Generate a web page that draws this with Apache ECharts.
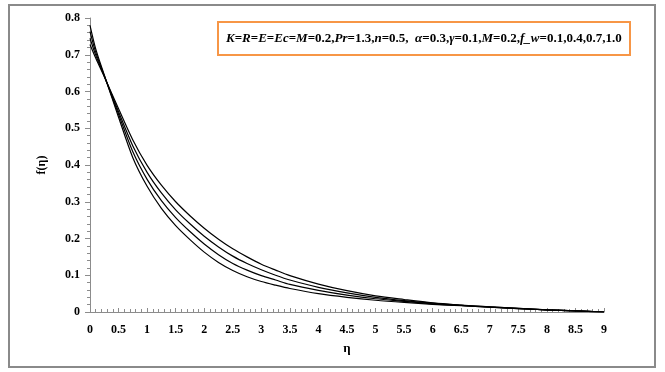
<!DOCTYPE html>
<html>
<head>
<meta charset="utf-8">
<script src="https://cdn.jsdelivr.net/npm/echarts@6/dist/echarts.min.js"></script>
<style>
  html, body { margin: 0; padding: 0; background: #fff; }
  #chart { width: 665px; height: 372px; }
</style>
</head>
<body>
<div id="chart"></div>
<script>
const eta = [0, 0.1, 0.25, 0.5, 0.75, 1, 1.25, 1.5, 1.75, 2, 2.25, 2.5, 2.75, 3, 3.25, 3.5, 4, 4.5, 5, 5.5, 6, 6.5, 7, 7.5, 8, 8.5, 9];

// f(eta) for f_w = 1.0, 0.7, 0.4, 0.1
const fw10 = [0.780, 0.716, 0.645, 0.530, 0.420, 0.342, 0.282, 0.235, 0.197, 0.163, 0.135, 0.113, 0.096, 0.083, 0.073, 0.064, 0.050, 0.040, 0.032, 0.026, 0.021, 0.017, 0.013, 0.009, 0.006, 0.003, 0];
const fw07 = [0.763, 0.707, 0.643, 0.538, 0.436, 0.361, 0.303, 0.257, 0.219, 0.185, 0.156, 0.132, 0.114, 0.099, 0.087, 0.075, 0.059, 0.046, 0.036, 0.029, 0.022, 0.018, 0.013, 0.009, 0.006, 0.003, 0];
const fw04 = [0.745, 0.699, 0.642, 0.545, 0.452, 0.380, 0.324, 0.278, 0.240, 0.206, 0.177, 0.152, 0.132, 0.115, 0.100, 0.087, 0.067, 0.052, 0.040, 0.031, 0.024, 0.018, 0.014, 0.010, 0.006, 0.003, 0];
const fw01 = [0.728, 0.691, 0.640, 0.553, 0.468, 0.399, 0.345, 0.300, 0.262, 0.228, 0.198, 0.172, 0.150, 0.130, 0.114, 0.099, 0.076, 0.058, 0.044, 0.034, 0.025, 0.019, 0.014, 0.010, 0.006, 0.003, 0];

const curves = [fw10, fw07, fw04, fw01];
const legendText = 'K=R=E=Ec=M=0.2,Pr=1.3,n=0.5,  α=0.3,γ=0.1,M=0.2,f_w=0.1,0.4,0.7,1.0';

const serif = "'Liberation Serif', 'DejaVu Serif', serif";

// letters italic, numbers and signs upright
const toRich = (s) =>
  s.match(/[A-Za-zα-ω_]+|[^A-Za-zα-ω_]+/g)
    .map((p) => (/^[A-Za-zα-ω_]/.test(p) ? `{i|${p}}` : `{n|${p}}`))
    .join('');

const chart = echarts.init(document.getElementById('chart'));

const axisGray = '#8c8c8c';

chart.setOption({
  backgroundColor: '#fff',
  animation: false,
  textStyle: { fontFamily: serif },
  grid: { left: 90, right: 61, top: 18, bottom: 60 },
  xAxis: {
    type: 'value',
    min: 0,
    max: 9,
    interval: 0.5,
    name: 'η',
    nameLocation: 'middle',
    nameGap: 30,
    nameTextStyle: { fontFamily: serif, fontWeight: 'bold', fontSize: 13, color: '#000' },
    axisLine: { lineStyle: { color: axisGray, width: 1 } },
    axisTick: { inside: true, length: 4, lineStyle: { color: axisGray } },
    minorTick: { show: true, splitNumber: 5, length: 3, lineStyle: { color: axisGray } },
    splitLine: { show: false },
    axisLabel: { fontFamily: serif, fontWeight: 'bold', fontSize: 12, color: '#000', margin: 12 },
  },
  yAxis: {
    type: 'value',
    min: 0,
    max: 0.8,
    interval: 0.1,
    name: 'f(η)',
    nameLocation: 'middle',
    nameGap: 42,
    nameRotate: 90,
    nameTextStyle: { fontFamily: serif, fontWeight: 'bold', fontSize: 12, color: '#000' },
    axisLine: { show: true, lineStyle: { color: axisGray, width: 1 } },
    axisTick: { length: 5, lineStyle: { color: axisGray } },
    minorTick: { show: true, splitNumber: 5, length: 3, lineStyle: { color: axisGray } },
    splitLine: { show: false },
    axisLabel: {
      fontFamily: serif, fontWeight: 'bold', fontSize: 12, color: '#000', margin: 10,
      formatter: (v) => (v === 0 ? '0' : v.toFixed(1)),
    },
  },
  series: curves.map((c) => ({
    type: 'line',
    data: eta.map((x, i) => [x, c[i]]),
    smooth: 0.3,
    showSymbol: false,
    lineStyle: { color: '#000', width: 1.2 },
    emphasis: { disabled: true },
  })),
  graphic: [
    {
      type: 'rect',
      shape: { x: 9, y: 5, width: 646, height: 362 },
      style: { fill: 'none', stroke: '#8a8a8a', lineWidth: 2 },
      silent: true,
    },
    {
      type: 'rect',
      shape: { x: 218, y: 22, width: 412, height: 33 },
      style: { fill: '#fff', stroke: '#f79646', lineWidth: 2 },
      silent: true,
    },
    {
      type: 'text',
      left: 226,
      top: 32,
      style: {
        text: toRich(legendText),
        rich: {
          i: { fontFamily: serif, fontWeight: 'bold', fontStyle: 'italic', fontSize: 13, fill: '#000' },
          n: { fontFamily: serif, fontWeight: 'bold', fontSize: 13, fill: '#000' },
        },
      },
      silent: true,
    },
  ],
});

window.addEventListener('resize', () => chart.resize());
</script>
</body>
</html>
